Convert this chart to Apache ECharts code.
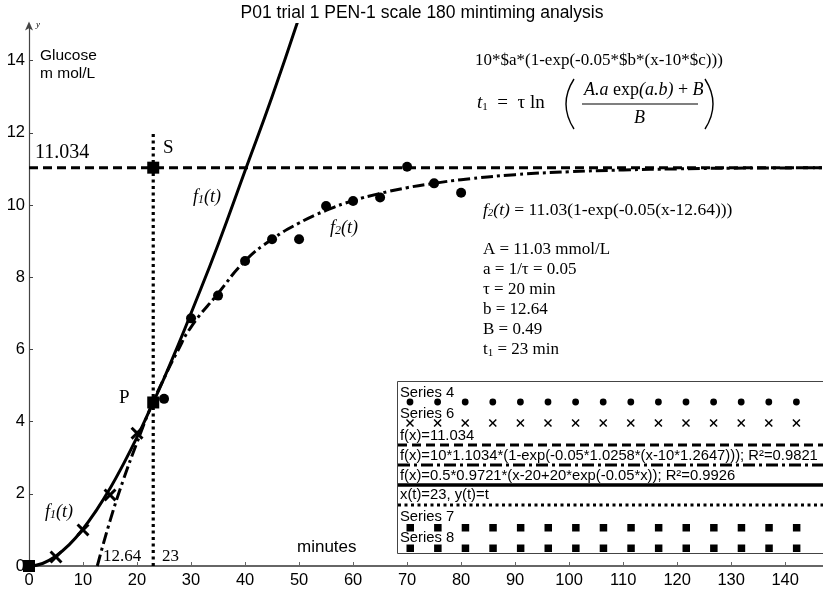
<!DOCTYPE html>
<html><head><meta charset="utf-8">
<script src="https://cdn.jsdelivr.net/npm/echarts@6/dist/echarts.min.js"></script>
<style>html,body{margin:0;padding:0;background:#fff}#c{width:823px;height:591px}</style>
</head><body><div id="c"></div>
<script>
// ---- data ----
const xTickValues = [0,10,20,30,40,50,60,70,80,90,100,110,120,130,140];
const yTickValues = [0,2,4,6,8,10,12,14];

const series4X = [25,30,35,40,45,50,55,60,65,70,75,80];
const series4Y = [4.63,6.86,7.49,8.45,9.05,9.05,9.97,10.11,10.21,11.06,10.6,10.34];

const series6X = [5,10,15,20];
const series6Y = [0.25,1.0,1.97,3.68];

const asymptoteX = [0,147];
const asymptoteY = [11.034,11.034];

const f2X = [12.64,15,17.5,20,22.5,25,27.5,30,35,40,45,50,55,60,65,70,75,80,90,100,110,120,130,147];
const f2Y = [0,1.25,2.4,3.42,4.38,5.2,5.95,6.62,7.55,8.45,9.05,9.5,9.85,10.12,10.32,10.48,10.6,10.7,10.84,10.92,10.97,11.0,11.02,11.03];

const f1X = [0,2.5,5,7.5,10,12.5,15,17.5,20,22.5,25,27.5,30,35,40,45,50];
const f1Y = [0,0.07,0.28,0.6,1.03,1.55,2.15,2.83,3.57,4.37,5.2,6.08,7.0,8.9,10.95,13.0,15.2];

const tLineX = [23,23];
const tLineY = [0,12];

const series7X = [0,23];
const series7Y = [0,4.53];
const series8X = [23];
const series8Y = [11.034];

// ---- chart ----
const zip = (xs, ys) => xs.map((x, i) => [x, ys[i]]);
const serif = '"Liberation Serif","Times New Roman",serif';
const sans = '"Liberation Sans",Arial,sans-serif';
const crossPath = 'path://M0,1.6L1.6,0L5,3.4L8.4,0L10,1.6L6.6,5L10,8.4L8.4,10L5,6.6L1.6,10L0,8.4L3.4,5Z';

const chart = echarts.init(document.getElementById('c'), null, {renderer: 'canvas'});

const G = [];
function T(x, y, text, font, extra) {
  G.push({type: 'text', x: x, y: y, z: 50,
    style: Object.assign({text: text, font: font, fill: '#000', align: 'left', verticalAlign: 'middle'}, extra || {})});
}
function R(x, y, text, rich, extra) {
  G.push({type: 'text', x: x, y: y, z: 50,
    style: Object.assign({text: text, rich: rich, fill: '#000', align: 'left', verticalAlign: 'middle'}, extra || {})});
}
const it = (s) => ({font: 'italic ' + s + 'px ' + serif, fill: '#000'});
const rm = (s) => ({font: s + 'px ' + serif, fill: '#000'});
const sub = (s, st) => ({font: (st || '') + ' ' + s + 'px ' + serif, fill: '#000', verticalAlign: 'bottom', padding: [4, 0, 0, 0]});

// title & axis texts
T(422, 13, 'P01 trial 1 PEN-1 scale 180 mintiming analysis', '17.5px ' + sans, {align: 'center'});
T(40, 56, 'Glucose', '15.5px ' + sans);
T(40, 74, 'm mol/L', '15.5px ' + sans);
T(36, 25, 'y', 'italic 9px ' + serif);
T(297, 547, 'minutes', '17px ' + sans);

// annotations
T(35, 153, '11.034', '20px ' + serif);
T(163, 148, 'S', '19px ' + serif);
T(119, 398, 'P', '19px ' + serif);
T(103, 557, '12.64', '17px ' + serif);
T(162, 557, '23', '17px ' + serif);
R(193, 197, '{i|f}{s|1}{i|(t)}', {i: it(18), s: sub(12, 'italic')});
R(45, 512, '{i|f}{s|1}{i|(t)}', {i: it(18), s: sub(12, 'italic')});
R(330, 228, '{i|f}{s|2}{i|(t)}', {i: it(18), s: sub(12, 'italic')});

// right text block
T(475, 61, '10*$a*(1-exp(-0.05*$b*(x-10*$c)))', '17px ' + serif);
R(477, 103, '{i|t}{s|1}{r|  =  τ ln}', {i: it(19), s: sub(11), r: rm(19)});
R(584, 90, '{i|A.a }{r|exp}{i|(a.b)}{r| + }{i|B}', {i: it(18), r: rm(18)});
R(634, 118, '{i|B}', {i: it(18)});
G.push({type: 'line', z: 50, shape: {x1: 582, y1: 104, x2: 698, y2: 104}, style: {stroke: '#000', lineWidth: 1.2}});
G.push({type: 'bezierCurve', z: 50, shape: {x1: 574, y1: 79, x2: 574, y2: 129, cpx1: 558, cpy1: 104}, style: {stroke: '#000', lineWidth: 1.4, fill: null}});
G.push({type: 'bezierCurve', z: 50, shape: {x1: 705, y1: 79, x2: 705, y2: 129, cpx1: 721, cpy1: 104}, style: {stroke: '#000', lineWidth: 1.4, fill: null}});

R(483, 210, '{i|f}{s|2}{i|(t)}{r| = 11.03(1-exp(-0.05(x-12.64)))}', {i: it(17.5), s: sub(11, 'italic'), r: rm(17.5)});
T(483, 250, 'A = 11.03 mmol/L', '17px ' + serif);
T(483, 270, 'a = 1/τ = 0.05', '17px ' + serif);
T(483, 290, 'τ = 20 min', '17px ' + serif);
T(483, 310, 'b = 12.64', '17px ' + serif);
T(483, 330, 'B = 0.49', '17px ' + serif);
R(483, 350, '{r|t}{s|1}{r| = 23 min}', {r: rm(17), s: sub(11)});

// legend box
G.push({type: 'rect', z: 40, shape: {x: 397.5, y: 381.5, width: 430, height: 172}, style: {fill: '#fff', stroke: '#444', lineWidth: 1}});
const lf = '14.8px ' + sans;
T(400, 393, 'Series 4', lf);
T(400, 414, 'Series 6', lf);
T(400, 436, 'f(x)=11.034', lf);
T(400, 456, 'f(x)=10*1.1034*(1-exp(-0.05*1.0258*(x-10*1.2647))); R²=0.9821', lf);
T(400, 476, 'f(x)=0.5*0.9721*(x-20+20*exp(-0.05*x)); R²=0.9926', lf);
T(400, 495, 'x(t)=23, y(t)=t', lf);
T(400, 517, 'Series 7', lf);
T(400, 538, 'Series 8', lf);
const lx1 = 398, lx2 = 823;
G.push({type: 'line', z: 45, shape: {x1: lx1, y1: 445, x2: lx2, y2: 445}, style: {stroke: '#000', lineWidth: 3, lineDash: [9, 5]}});
G.push({type: 'line', z: 45, shape: {x1: lx1, y1: 465, x2: lx2, y2: 465}, style: {stroke: '#000', lineWidth: 3, lineDash: [12, 4, 3, 4]}});
G.push({type: 'line', z: 45, shape: {x1: lx1, y1: 485, x2: lx2, y2: 485}, style: {stroke: '#000', lineWidth: 3.5}});
G.push({type: 'line', z: 45, shape: {x1: lx1, y1: 505, x2: lx2, y2: 505}, style: {stroke: '#000', lineWidth: 3, lineDash: [3, 3.5]}});
for (let i = 0; i < 15; i++) {
  const cx = 410 + i * 27.6;
  G.push({type: 'circle', z: 45, shape: {cx: cx, cy: 402, r: 3.4}, style: {fill: '#000'}});
  G.push({type: 'line', z: 45, shape: {x1: cx - 3.5, y1: 419.5, x2: cx + 3.5, y2: 426.5}, style: {stroke: '#000', lineWidth: 1.5}});
  G.push({type: 'line', z: 45, shape: {x1: cx - 3.5, y1: 426.5, x2: cx + 3.5, y2: 419.5}, style: {stroke: '#000', lineWidth: 1.5}});
  G.push({type: 'rect', z: 45, shape: {x: cx - 3.5, y: 524, width: 7.5, height: 7.5}, style: {fill: '#000'}});
  G.push({type: 'rect', z: 45, shape: {x: cx - 3.5, y: 544.5, width: 7.5, height: 7.5}, style: {fill: '#000'}});
}

const option = {
  animation: false,
  backgroundColor: '#fff',
  grid: {left: 29, top: 24.5, width: 794, height: 541.5, containLabel: false},
  xAxis: {
    type: 'value', min: 0, max: 147,
    axisLine: {onZero: false, lineStyle: {color: '#666', width: 2}},
    axisTick: {inside: true, length: 4, customValues: xTickValues, lineStyle: {color: '#666', width: 1}},
    axisLabel: {customValues: xTickValues, color: '#000', fontFamily: sans, fontSize: 16.5, margin: 6},
    splitLine: {show: false}
  },
  yAxis: {
    type: 'value', min: 0, max: 15,
    axisLine: {onZero: false, show: true, lineStyle: {color: '#444', width: 1.2}, symbol: ['none', 'arrow'], symbolSize: [6, 9], symbolOffset: [0, 3]},
    axisTick: {show: true, inside: true, length: 4, customValues: yTickValues, lineStyle: {color: '#444'}},
    axisLabel: {customValues: yTickValues, color: '#000', fontFamily: sans, fontSize: 16.5, margin: 4},
    splitLine: {show: false}
  },
  series: [
    {name: 'f(x)=11.034', type: 'line', data: zip(asymptoteX, asymptoteY), symbol: 'none', z: 3,
     lineStyle: {color: '#000', width: 3, type: [9, 5]}},
    {name: 'f2', type: 'line', data: zip(f2X, f2Y), symbol: 'none', smooth: true, z: 3,
     lineStyle: {color: '#000', width: 3, type: [12, 4, 3, 4]}},
    {name: 'f1', type: 'line', data: zip(f1X, f1Y), symbol: 'none', smooth: true, z: 3, clip: true,
     lineStyle: {color: '#000', width: 3}},
    {name: 'x(t)=23', type: 'line', data: zip(tLineX, tLineY), symbol: 'none', z: 3,
     lineStyle: {color: '#000', width: 3.2, type: [3, 3.5]}},
    {name: 'Series 4', type: 'scatter', data: zip(series4X, series4Y), symbol: 'circle', symbolSize: 10, z: 5,
     itemStyle: {color: '#000', opacity: 1}},
    {name: 'Series 6', type: 'scatter', data: zip(series6X, series6Y), symbol: crossPath, symbolSize: 13, z: 5,
     itemStyle: {color: '#000', opacity: 1}},
    {name: 'Series 7', type: 'scatter', data: zip(series7X, series7Y), symbol: 'rect', symbolSize: 12, z: 6, clip: false,
     itemStyle: {color: '#000', opacity: 1}},
    {name: 'Series 8', type: 'scatter', data: zip(series8X, series8Y), symbol: 'rect', symbolSize: 12, z: 6,
     itemStyle: {color: '#000', opacity: 1}}
  ],
  graphic: {elements: G}
};
chart.setOption(option);
</script>
</body></html>
